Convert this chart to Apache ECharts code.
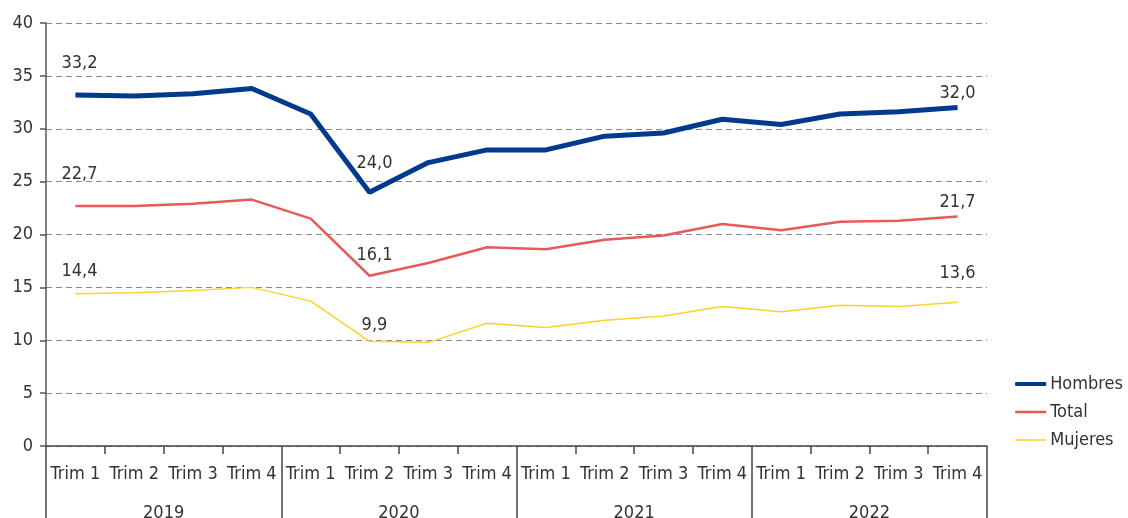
<!DOCTYPE html>
<html><head><meta charset="utf-8">
<script src="https://cdn.jsdelivr.net/npm/echarts@6/dist/echarts.min.js"></script>
<style>html,body{margin:0;padding:0;background:#fff}#c{width:1128px;height:518px}</style>
</head><body><div id="c"></div>
<script>
const quarters = ['Trim 1','Trim 2','Trim 3','Trim 4','Trim 1','Trim 2','Trim 3','Trim 4','Trim 1','Trim 2','Trim 3','Trim 4','Trim 1','Trim 2','Trim 3','Trim 4'];
const years = ['2019','2020','2021','2022'];
const hombres = [33.2,33.1,33.3,33.8,31.4,24.0,26.8,28.0,28.0,29.3,29.6,30.9,30.4,31.4,31.6,32.0];
const total   = [22.7,22.7,22.9,23.3,21.5,16.1,17.3,18.8,18.6,19.5,19.9,21.0,20.4,21.2,21.3,21.7];
const mujeres = [14.4,14.5,14.7,15.0,13.7,9.9,9.8,11.6,11.2,11.9,12.3,13.2,12.7,13.3,13.2,13.6];
const yTicks = [0,5,10,15,20,25,30,35,40];

const FONT = "'Liberation Sans Narrow','DejaVu Sans Condensed','Roboto',sans-serif";
const FS = 18;
const labelled = {0:{dist:[23,23,13]},5:{dist:[20,11,7]},15:{dist:[5,5,20]}};
function withLabels(arr, si){
  return arr.map((v,i)=>{
    if(labelled[i]===undefined) return v;
    return {value:v,label:{show:true,position:'top',distance:labelled[i].dist[si],
      offset:[i===0?4:(i===5?5:0),0],
      formatter:(p)=>p.value.toFixed(1).replace('.',','),
      fontFamily:FONT,fontSize:FS,color:'#333'}};
  });
}
const chart = echarts.init(document.getElementById('c'));
chart.setOption({
  animation:false,
  grid:{left:46,right:141,top:23,bottom:72,containLabel:false,outerBoundsMode:'none'},
  legend:{
    orient:'vertical',right:0,top:370,itemWidth:31,itemHeight:4,itemGap:10,
    icon:'rect',
    textStyle:{fontFamily:FONT,fontSize:FS,color:'#333',padding:[0,0,0,-1]},
    data:[{name:'Hombres',itemStyle:{color:'#003a8c'}},
          {name:'Total',icon:'path://M0,0H30V2.5H0Z',itemStyle:{color:'#e85a5a'}},
          {name:'Mujeres',icon:'path://M0,0H30V1.5H0Z',itemStyle:{color:'#fdd22a'}}]
  },
  xAxis:[{
    type:'category',data:quarters,boundaryGap:true,position:'bottom',
    axisLine:{show:true,lineStyle:{color:'#444',width:1.5}},
    axisTick:{show:true,interval:0,length:8,lineStyle:{color:'#444',width:1.5}},
    axisLabel:{show:true,interval:0,margin:19,fontFamily:FONT,fontSize:FS,color:'#333'}
  },{
    type:'category',data:years,boundaryGap:true,position:'bottom',gridIndex:0,
    axisLine:{show:false},
    axisTick:{show:true,interval:0,length:74,lineStyle:{color:'#444',width:1.5}},
    axisLabel:{show:true,interval:0,margin:58,fontFamily:FONT,fontSize:FS,color:'#333'}
  }],
  yAxis:{
    type:'value',min:0,max:40,interval:5,
    axisLine:{show:true,lineStyle:{color:'#555',width:1.5}},
    axisTick:{show:true,length:6,lineStyle:{color:'#555',width:1.5}},
    axisLabel:{margin:13,fontFamily:FONT,fontSize:FS,color:'#333',
      formatter:(v)=>yTicks.includes(v)?String(v):''},
    splitLine:{show:true,lineStyle:{color:'#8a8a8a',type:[6,4],width:1}}
  },
  series:[
    {name:'Hombres',type:'line',data:withLabels(hombres,0),symbol:'circle',symbolSize:0,showSymbol:true,
     lineStyle:{color:'#003a8c',width:5},itemStyle:{color:'#003a8c'},z:4},
    {name:'Total',type:'line',data:withLabels(total,1),symbol:'circle',symbolSize:0,showSymbol:true,
     lineStyle:{color:'#e85a5a',width:2.5},itemStyle:{color:'#e85a5a'},z:3},
    {name:'Mujeres',type:'line',data:withLabels(mujeres,2),symbol:'circle',symbolSize:0,showSymbol:true,
     lineStyle:{color:'#fdd22a',width:1.5},itemStyle:{color:'#fdd22a'},z:2}
  ]
});
</script></body></html>
